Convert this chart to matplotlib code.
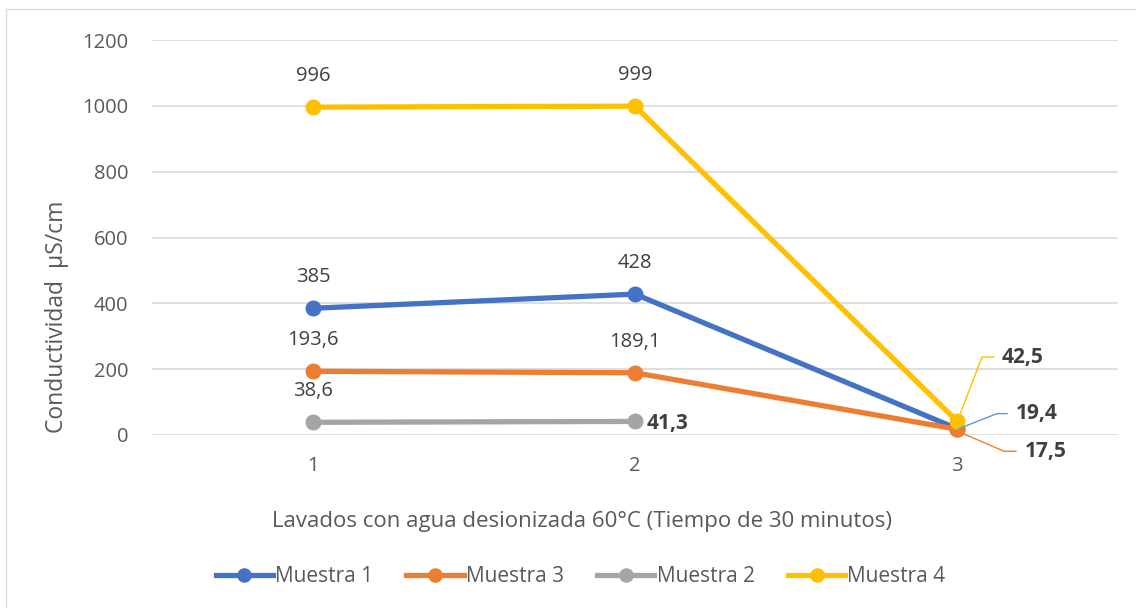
import matplotlib
matplotlib.use("Agg")
import matplotlib.pyplot as plt
from matplotlib.lines import Line2D
from matplotlib.patches import Rectangle

plt.rcParams['font.family'] = ['Open Sans', 'DejaVu Sans']

categories = ["1", "2", "3"]
series_names = ["Muestra 1", "Muestra 3", "Muestra 2", "Muestra 4"]
muestra1 = [385, 428, 19.4]
muestra3 = [193.6, 189.1, 17.5]
muestra2 = [38.6, 41.3]
muestra4 = [996, 999, 42.5]
labels1 = ["385", "428", "19,4"]
labels3 = ["193,6", "189,1", "17,5"]
labels2 = ["38,6", "41,3"]
labels4 = ["996", "999", "42,5"]
y_ticks = [0, 200, 400, 600, 800, 1000, 1200]

colors = {"Muestra 1": "#4472C4", "Muestra 3": "#ED7D31",
          "Muestra 2": "#A5A5A5", "Muestra 4": "#FFC000"}
leader_colors = {"Muestra 1": "#5B9BD5", "Muestra 3": "#ED7D31", "Muestra 4": "#FFC000"}

W, H = 1136, 608
fig = plt.figure(figsize=(W / 100, H / 100), dpi=100)
ax = fig.add_axes([152 / W, 1 - 435 / H, (1118 - 152) / W, (435 - 40) / H])

data = {"Muestra 1": muestra1, "Muestra 3": muestra3, "Muestra 2": muestra2, "Muestra 4": muestra4}
labels = {"Muestra 1": labels1, "Muestra 3": labels3, "Muestra 2": labels2, "Muestra 4": labels4}

LW, MS = 3.8, 10.5
xpos = {c: i + 1 for i, c in enumerate(categories)}
for i, name in enumerate(series_names):
    vals = data[name]
    xs = [xpos[c] for c in categories[:len(vals)]]
    ax.plot(xs, vals, color=colors[name], lw=LW, marker='o', ms=MS,
            solid_capstyle='round', zorder=3 + i, label=name, clip_on=False)

ax.set_xlim(0.5, 3.5)
ax.set_ylim(0, 1200)
ax.set_yticks(y_ticks)
ax.set_xticks([xpos[c] for c in categories])
ax.set_xticklabels(categories)
ax.tick_params(axis='both', length=0, labelsize=14.5, colors='#595959')
ax.tick_params(axis='y', pad=17)
ax.tick_params(axis='x', pad=15)
for s in ax.spines.values():
    s.set_visible(False)
ax.grid(axis='y', color='#D9D9D9', lw=1.2)
ax.set_axisbelow(True)

# axis titles placed in figure pixel positions (as in the reference chart area)
fig.text(57 / W, 1 - 317 / H, "Conductividad  µS/cm", rotation=90, ha='center', va='center',
         fontsize=16.5, color='#595959')
fig.text(582 / W, 1 - 521 / H, "Lavados con agua desionizada 60°C (Tiempo de 30 minutos)",
         ha='center', va='center', fontsize=16, color='#595959')

txtc = '#404040'
for name in series_names:
    vals = data[name]
    labs = labels[name]
    for j in range(min(2, len(vals))):
        if name == "Muestra 2" and j == 1:
            continue
        ax.annotate(labs[j], (xpos[categories[j]], vals[j]), xytext=(0, 31),
                    textcoords='offset pixels', ha='center', va='center',
                    fontsize=14.5, color=txtc)

ax.annotate(labels2[1], (xpos[categories[1]], muestra2[1]), xytext=(12, -2),
            textcoords='offset pixels', ha='left', va='center',
            fontsize=15, color=txtc, fontweight='bold')

fig.canvas.draw()
leaders = {
    "Muestra 4": ([(2, 4), (25, 64), (37, 64)], (45, 64)),
    "Muestra 1": ([(2, 0), (40, 15), (50, 15)], (59, 15)),
    "Muestra 3": ([(3, -3), (47, -22), (59, -22)], (68, -22)),
}
for name, (pts, tpos) in leaders.items():
    val = data[name][2]
    px, py = ax.transData.transform((xpos[categories[2]], val))
    xs = [px + dx for dx, dy in pts]
    ys = [py + dy for dx, dy in pts]
    fig.add_artist(Line2D(xs, ys, transform=None, color=leader_colors[name], lw=1.0, zorder=10))
    fig.text((px + tpos[0]) / W, (py + tpos[1]) / H, labels[name][2], ha='left', va='center',
             fontsize=15, fontweight='bold', color=txtc)

handles = [Line2D([0], [0], color=colors[n], lw=LW, marker='o', ms=MS * 0.9) for n in series_names]
fig.legend(handles, series_names, loc='center', bbox_to_anchor=(0.511, 1 - 577 / H), ncol=4,
           frameon=False, fontsize=15, handlelength=2.75, handletextpad=0.1,
           columnspacing=1.6, labelcolor='#595959')

fig.add_artist(Rectangle((6 / W, -0.01), 1.0, 1 - 9 / H + 0.01, transform=fig.transFigure,
                         fill=False, edgecolor='#D9D9D9', lw=1.0))

fig.savefig("out.png", dpi=100)
